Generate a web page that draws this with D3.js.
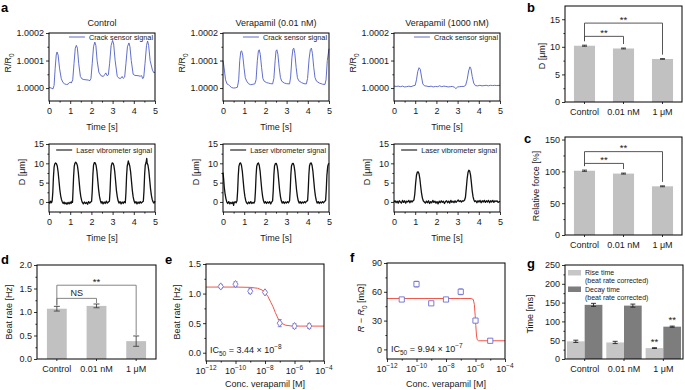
<!DOCTYPE html>
<html>
<head>
  <meta charset="utf-8">
  <title>Crack sensor vs laser vibrometer - verapamil</title>
  <script src="https://cdn.jsdelivr.net/npm/d3@7"></script>
  <style>
    body { margin: 0; background: #fff; }
  </style>
</head>
<body>
<script>
// ---------- data ----------
// panel a: time [s], crack sensor dR/R0 in units of 1e-4
const ctrlCrack = [[0,0.03],[0.1,0.0],[0.19,-0.03],[0.24,0.1],[0.29,0.7],[0.34,1.2],[0.38,1.31],[0.43,1.2],[0.5,0.7],[0.58,0.34],[0.66,0.2],[0.74,0.15],[0.82,0.13],[0.9,0.14],[0.96,0.2],[1.0,0.22],[1.05,0.18],[1.12,0.3],[1.18,0.9],[1.24,1.45],[1.29,1.55],[1.34,1.45],[1.4,0.9],[1.48,0.42],[1.56,0.33],[1.64,0.31],[1.75,0.3],[1.85,0.29],[1.93,0.27],[1.98,0.35],[2.04,0.9],[2.1,1.5],[2.16,1.67],[2.21,1.55],[2.27,1.0],[2.35,0.58],[2.45,0.45],[2.56,0.42],[2.62,0.48],[2.68,0.55],[2.74,0.45],[2.8,0.48],[2.86,0.9],[2.93,1.55],[3.0,1.73],[3.05,1.6],[3.12,1.0],[3.22,0.42],[3.3,0.36],[3.38,0.35],[3.45,0.42],[3.5,0.35],[3.57,0.4],[3.63,0.9],[3.7,1.5],[3.77,1.64],[3.82,1.5],[3.88,1.0],[3.97,0.5],[4.05,0.46],[4.2,0.45],[4.3,0.43],[4.37,0.45],[4.42,0.34],[4.47,0.4],[4.53,0.9],[4.6,1.55],[4.65,1.71],[4.7,1.55],[4.77,1.0],[4.88,0.65],[4.95,0.55],[5.0,0.58]];
const lowCrack = [[0,1.0],[0.05,0.75],[0.12,0.3],[0.19,0.15],[0.26,0.12],[0.32,0.08],[0.4,0.02],[0.5,0.0],[0.6,0.01],[0.68,0.03],[0.74,0.3],[0.79,1.0],[0.84,1.33],[0.88,1.35],[0.93,1.2],[0.99,0.75],[1.05,0.38],[1.11,0.26],[1.2,0.16],[1.31,0.12],[1.42,0.14],[1.5,0.15],[1.56,0.3],[1.62,1.0],[1.67,1.35],[1.71,1.39],[1.76,1.22],[1.82,0.75],[1.88,0.35],[1.94,0.25],[2.05,0.2],[2.15,0.18],[2.25,0.16],[2.34,0.15],[2.4,0.35],[2.46,1.0],[2.5,1.35],[2.54,1.39],[2.59,1.22],[2.65,0.75],[2.71,0.38],[2.77,0.25],[2.9,0.18],[3.0,0.16],[3.14,0.15],[3.19,0.4],[3.25,1.1],[3.3,1.42],[3.34,1.45],[3.39,1.25],[3.45,0.75],[3.51,0.38],[3.57,0.27],[3.7,0.2],[3.82,0.16],[3.93,0.15],[3.99,0.35],[4.06,1.05],[4.12,1.4],[4.17,1.45],[4.22,1.25],[4.28,0.75],[4.34,0.38],[4.41,0.25],[4.55,0.18],[4.7,0.14],[4.81,0.13],[4.86,0.3],[4.92,1.0],[5.0,1.43]];
const highCrack = [[0,0.07],[0.1,0.06],[0.2,0.07],[0.3,0.05],[0.4,0.07],[0.5,0.04],[0.6,0.05],[0.7,0.07],[0.8,0.05],[0.9,0.08],[1.0,0.1],[1.06,0.3],[1.12,0.6],[1.18,0.74],[1.24,0.68],[1.3,0.4],[1.36,0.15],[1.44,0.08],[1.55,0.07],[1.65,0.05],[1.75,0.07],[1.85,0.04],[1.95,0.06],[2.05,0.05],[2.15,0.08],[2.25,0.05],[2.35,0.07],[2.45,0.06],[2.55,0.04],[2.65,0.05],[2.75,0.06],[2.85,0.03],[2.92,-0.02],[3.0,0.04],[3.1,0.05],[3.2,0.06],[3.3,0.06],[3.38,0.1],[3.45,0.3],[3.52,0.62],[3.58,0.77],[3.63,0.7],[3.69,0.42],[3.76,0.18],[3.84,0.09],[3.95,0.08],[4.05,0.1],[4.15,0.08],[4.25,0.09],[4.35,0.1],[4.45,0.08],[4.55,0.1],[4.65,0.09],[4.75,0.1],[4.85,0.09],[5.0,0.1]];

// panel a: time [s], laser vibrometer displacement [um]
const ctrlLaser = [[0,0.1],[0.04,-0.3],[0.08,0.2],[0.12,-0.2],[0.15,0.3],[0.18,2.5],[0.21,6.5],[0.24,9.0],[0.27,9.8],[0.31,10.1],[0.35,9.9],[0.39,9.3],[0.43,7.8],[0.47,5.5],[0.51,3.2],[0.55,1.6],[0.59,0.6],[0.63,0.0],[0.67,-0.4],[0.71,0.0],[0.75,-0.5],[0.8,-0.2],[0.85,-0.6],[0.9,-0.1],[0.95,-0.5],[1.0,0.0],[1.04,-0.4],[1.08,0.2],[1.11,-0.1],[1.13,2.5],[1.16,6.5],[1.19,9.2],[1.22,10.0],[1.26,10.3],[1.3,10.0],[1.34,9.4],[1.38,7.8],[1.42,5.4],[1.46,3.0],[1.5,1.4],[1.54,0.4],[1.58,-0.2],[1.62,-0.5],[1.67,0.0],[1.72,-0.4],[1.77,-0.1],[1.82,-0.6],[1.87,0.1],[1.92,-0.3],[1.97,0.0],[2.01,0.2],[2.04,2.8],[2.07,7.0],[2.1,9.5],[2.14,10.2],[2.18,10.1],[2.22,9.5],[2.26,8.0],[2.3,5.6],[2.34,3.2],[2.38,1.5],[2.42,0.4],[2.46,-0.3],[2.5,0.1],[2.55,-0.5],[2.6,0.0],[2.65,-0.4],[2.7,0.2],[2.75,-0.3],[2.8,0.0],[2.85,0.2],[2.88,2.8],[2.91,7.0],[2.94,9.4],[2.98,10.1],[3.02,10.0],[3.06,9.4],[3.1,7.9],[3.14,5.5],[3.18,3.0],[3.22,1.4],[3.26,0.3],[3.3,-0.3],[3.35,0.1],[3.4,-0.5],[3.45,0.0],[3.5,-0.4],[3.55,0.1],[3.6,-0.2],[3.63,2.5],[3.66,6.8],[3.69,9.3],[3.72,10.0],[3.74,10.6],[3.77,10.0],[3.81,9.3],[3.85,7.8],[3.89,5.4],[3.93,3.0],[3.97,1.3],[4.01,0.3],[4.05,-0.3],[4.1,0.1],[4.15,-0.5],[4.2,0.0],[4.25,-0.4],[4.3,0.1],[4.35,-0.3],[4.4,0.0],[4.45,0.2],[4.48,2.8],[4.51,7.0],[4.54,9.5],[4.58,10.2],[4.61,11.3],[4.63,10.1],[4.67,9.5],[4.71,8.0],[4.75,5.7],[4.79,3.4],[4.83,1.7],[4.87,0.6],[4.91,0.0],[4.95,-0.3],[5.0,0.2]];
const lowLaser = [[0,7.6],[0.03,6.0],[0.06,3.8],[0.1,2.0],[0.14,0.8],[0.18,0.0],[0.22,-0.4],[0.27,0.1],[0.32,-0.5],[0.37,-0.1],[0.42,-0.4],[0.47,0.0],[0.5,-0.9],[0.52,-0.3],[0.57,0.1],[0.62,-0.2],[0.66,0.3],[0.69,2.8],[0.72,6.8],[0.75,9.2],[0.79,10.0],[0.83,10.1],[0.87,9.5],[0.91,8.0],[0.95,5.6],[0.99,3.2],[1.03,1.5],[1.07,0.4],[1.11,-0.2],[1.16,-0.5],[1.21,0.0],[1.26,-0.4],[1.31,0.1],[1.36,-0.4],[1.41,-0.1],[1.46,-0.3],[1.5,0.2],[1.53,2.8],[1.56,6.8],[1.59,9.2],[1.63,9.9],[1.67,10.1],[1.71,9.5],[1.75,8.0],[1.79,5.5],[1.83,3.1],[1.87,1.4],[1.91,0.3],[1.95,-0.3],[2.0,0.1],[2.05,-0.4],[2.1,0.0],[2.15,-0.3],[2.2,0.1],[2.25,-0.5],[2.3,0.0],[2.34,0.3],[2.37,3.0],[2.4,7.0],[2.43,9.3],[2.47,9.9],[2.51,10.0],[2.55,9.4],[2.59,7.9],[2.63,5.5],[2.67,3.1],[2.71,1.4],[2.75,0.3],[2.79,-0.3],[2.84,0.1],[2.89,-0.4],[2.94,0.0],[2.99,-0.3],[3.04,0.1],[3.09,-0.2],[3.14,0.3],[3.17,3.0],[3.2,7.0],[3.23,9.3],[3.27,9.9],[3.31,10.0],[3.35,9.4],[3.39,7.9],[3.43,5.5],[3.47,3.1],[3.51,1.4],[3.55,0.3],[3.59,-0.3],[3.64,0.1],[3.69,-0.4],[3.74,0.0],[3.79,-0.3],[3.84,0.1],[3.89,-0.2],[3.94,0.2],[3.99,0.3],[4.02,3.0],[4.05,7.0],[4.08,9.3],[4.12,10.0],[4.16,10.1],[4.2,9.5],[4.24,8.0],[4.28,5.6],[4.32,3.2],[4.36,1.5],[4.4,0.4],[4.44,-0.3],[4.49,0.1],[4.54,-0.4],[4.59,0.0],[4.64,-0.3],[4.69,0.1],[4.74,-0.2],[4.8,0.2],[4.84,0.4],[4.87,3.0],[4.9,6.8],[4.94,9.2],[4.97,9.8],[5.0,10.0]];
const highLaser = [[0,0.0],[0.05,0.3],[0.1,-0.2],[0.15,0.2],[0.2,-0.3],[0.25,0.3],[0.3,0.0],[0.35,-0.3],[0.4,0.4],[0.45,-0.1],[0.5,0.3],[0.55,-0.3],[0.6,0.2],[0.65,0.0],[0.7,0.4],[0.75,-0.2],[0.8,0.3],[0.85,0.0],[0.9,0.3],[0.94,0.5],[0.98,2.0],[1.02,4.8],[1.06,6.9],[1.1,7.7],[1.14,7.8],[1.18,7.3],[1.22,6.0],[1.26,4.0],[1.3,2.2],[1.34,1.0],[1.38,0.3],[1.43,0.0],[1.48,-0.3],[1.53,0.2],[1.58,-0.2],[1.63,0.3],[1.68,-0.4],[1.73,0.1],[1.78,-0.2],[1.83,0.4],[1.88,-0.1],[1.93,0.2],[1.98,-0.3],[2.03,0.1],[2.08,-0.5],[2.13,0.2],[2.18,-0.2],[2.23,0.3],[2.28,-0.1],[2.33,0.2],[2.38,-0.4],[2.43,0.1],[2.48,0.3],[2.53,-0.2],[2.58,0.2],[2.63,-0.3],[2.68,0.4],[2.73,-0.1],[2.78,0.2],[2.83,-0.2],[2.88,0.3],[2.93,-0.1],[2.98,0.2],[3.03,0.5],[3.08,0.1],[3.13,0.3],[3.18,0.0],[3.23,0.3],[3.28,0.2],[3.33,0.5],[3.37,1.2],[3.41,3.5],[3.45,6.0],[3.49,7.6],[3.53,8.2],[3.57,8.0],[3.61,7.0],[3.65,5.0],[3.69,2.8],[3.73,1.3],[3.77,0.5],[3.81,0.1],[3.86,0.3],[3.91,-0.2],[3.96,0.3],[4.01,0.0],[4.06,0.4],[4.11,-0.2],[4.16,0.3],[4.21,0.0],[4.26,0.4],[4.31,-0.1],[4.36,0.3],[4.41,0.0],[4.46,0.4],[4.51,-0.2],[4.56,0.3],[4.61,0.0],[4.66,0.4],[4.71,-0.1],[4.76,0.3],[4.81,0.1],[4.86,0.3],[4.91,-0.1],[5.0,0.2]];

const aTitles = ['Control', 'Verapamil (0.01 nM)', 'Verapamil (1000 nM)'];
const timeTicks = [0, 1, 2, 3, 4, 5];
const crackTicks = [0, 1, 2];
const crackTickLabels = ['1.0000', '1.0001', '1.0002'];
const dispTicks = [0, 5, 10, 15];

// panels b, c, d, g: bar charts
const groups = ['Control', '0.01 nM', '1 \u03bcM'];
const bDisp = [10.2, 9.7, 7.8], bErr = [0.1, 0.08, 0.06];
const cForce = [101, 96.5, 76.5], cErr = [1.0, 0.8, 0.7];
const dRate = [1.07, 1.13, 0.38], dErr = [0.05, 0.04, 0.11];
const gRise = [47, 44, 29], gRiseErr = [3, 3, 1];
const gDecay = [144, 142, 86], gDecayErr = [4, 4, 1.5];
const gRiseSig = ['', '', '**'], gDecaySig = ['', '', '**'];

// panels e, f: [log10 conc, mean, err] and fitted curve [log10 conc, value]
const ePoints = [[-11,1.12,0.03],[-10,1.16,0.04],[-9,1.04,0.04],[-8,1.02,0.02],[-7,0.50,0.06],[-6,0.45,0.04],[-5,0.45,0.04]];
const eFit = [[-12,1.11],[-10,1.11],[-9,1.105],[-8.5,1.09],[-8.2,1.06],[-8,1.02],[-7.8,0.95],[-7.6,0.85],[-7.46,0.78],[-7.3,0.68],[-7.1,0.57],[-6.9,0.5],[-6.6,0.465],[-6.2,0.452],[-5.5,0.45],[-4,0.45]];
const fPoints = [[-11,52,1],[-10,68,3],[-9,48,1],[-8,52,1],[-7,60,3],[-6,30,1.5],[-5,9,2]];
const fFit = [[-12,53],[-7,53],[-6.3,53],[-6.15,52],[-6.08,47],[-6.02,35],[-5.98,25],[-5.93,14],[-5.88,10],[-5.8,9],[-4,9]];
const decadeTicks = [-12, -11, -10, -9, -8, -7, -6, -5, -4];
const decadeLabels = [-12, -10, -8, -6, -4];

// ---------- drawing ----------
const FONT = "'Liberation Sans', Arial, Helvetica, sans-serif";
const INK = '#1a1a1a';
const BLUE = '#4f5fc6', RED = '#f0574c', PURPLE = '#6d6dd2';

const svg = d3.select('body').append('svg')
  .attr('width', 685).attr('height', 390)
  .attr('font-family', FONT);

function frame(x, y, w, h) {
  svg.append('rect').attr('x', x).attr('y', y).attr('width', w).attr('height', h)
    .attr('fill', 'none').attr('stroke', '#000').attr('stroke-width', 1);
}

function axisG(gen, tx, ty) {
  const g = svg.append('g').attr('transform', `translate(${tx},${ty})`).call(gen)
    .attr('font-family', FONT).attr('font-size', 9);
  g.select('.domain').remove();
  g.selectAll('.tick line').attr('stroke', '#000').attr('stroke-width', 0.8);
  g.selectAll('.tick text').attr('fill', INK);
  return g;
}

function yAxis(scale, x0, vals, labels, minor) {
  axisG(d3.axisLeft(scale).tickValues(vals).tickFormat((d, i) => labels[i]).tickSize(3).tickPadding(2), x0, 0);
  if (minor) axisG(d3.axisLeft(scale).tickValues(minor).tickFormat('').tickSize(1.6), x0, 0);
}

function xAxis(scale, y0, vals, labels, minor, pad) {
  const gen = d3.axisBottom(scale).tickSize(3).tickPadding(pad);
  if (vals) gen.tickValues(vals);
  if (labels) gen.tickFormat((d, i) => labels[i]);
  axisG(gen, 0, y0);
  if (minor) axisG(d3.axisBottom(scale).tickValues(minor).tickFormat('').tickSize(1.6), 0, y0);
}

// text with sub/superscript parts
function rich(t, parts) {
  let shift = 0;
  parts.forEach(p => {
    const [s, k] = typeof p === 'string' ? [p, ''] : p;
    const target = k === 'sub' ? 2.5 : k === 'sup' ? -3.8 : 0;
    const ts = t.append('tspan').text(s).attr('dy', target - shift);
    shift = target;
    if (k === 'sub' || k === 'sup') ts.attr('font-size', 6.5);
    if (k === 'it') ts.attr('font-style', 'italic');
  });
  return t;
}

function yLabel(x, y, parts) {
  const t = svg.append('text').attr('transform', `translate(${x},${y}) rotate(-90)`)
    .attr('text-anchor', 'middle').attr('font-size', 9).attr('fill', INK);
  rich(t, parts);
}

function label(x, y, s, size, anchor) {
  return svg.append('text').attr('x', x).attr('y', y).attr('font-size', size)
    .attr('fill', INK).attr('text-anchor', anchor || 'middle').text(s);
}

function letter(x, y, s) {
  svg.append('text').attr('x', x).attr('y', y).attr('font-size', 13)
    .attr('font-weight', 'bold').attr('fill', '#000').text(s);
}

// legend inside a trace panel, right aligned
function traceLegend(right, y, s, color, width) {
  const t = label(right, y + 2.6, s, 7.3, 'end');
  const start = right - t.node().getComputedTextLength();
  svg.append('line').attr('x1', start - 20).attr('x2', start - 4).attr('y1', y).attr('y2', y)
    .attr('stroke', color).attr('stroke-width', width);
}

// ---------- panel a ----------
const aLeft = [49, 223, 394], aW = 106;
const crackSeries = [ctrlCrack, lowCrack, highCrack];
const laserSeries = [ctrlLaser, lowLaser, highLaser];

aLeft.forEach((x0, i) => {
  const x = d3.scaleLinear().domain([0, 5]).range([x0, x0 + aW]);
  const minorT = d3.range(0.5, 5, 1);

  // crack sensor row
  const yT = d3.scaleLinear().domain([-0.47, 2]).range([101, 33]);
  svg.append('path').datum(crackSeries[i])
    .attr('d', d3.line().x(d => x(d[0])).y(d => yT(d[1])))
    .attr('fill', 'none').attr('stroke', BLUE).attr('stroke-width', 0.9)
    .attr('stroke-linejoin', 'round');
  frame(x0, 33, aW, 68);
  yAxis(yT, x0, crackTicks, crackTickLabels, [0.5, 1.5]);
  xAxis(x, 101, timeTicks, timeTicks, minorT, 4);
  label(x0 + aW / 2, 26, aTitles[i], 9);
  label(x0 + aW / 2, 130, 'Time [s]', 9);
  yLabel(x0 - 38, 63, ['R/R', ['0', 'sub']]);
  traceLegend(x0 + aW - 2, 37, 'Crack sensor signal', BLUE, 0.9);

  // laser vibrometer row
  const yB = d3.scaleLinear().domain([-2.6, 15]).range([212, 144]);
  svg.append('path').datum(laserSeries[i])
    .attr('d', d3.line().x(d => x(d[0])).y(d => yB(d[1])))
    .attr('fill', 'none').attr('stroke', '#111').attr('stroke-width', 1.3)
    .attr('stroke-linejoin', 'round');
  frame(x0, 144, aW, 68);
  yAxis(yB, x0, dispTicks, dispTicks, [2.5, 7.5, 12.5]);
  xAxis(x, 212, timeTicks, timeTicks, minorT, 4);
  label(x0 + aW / 2, 241, 'Time [s]', 9);
  yLabel(x0 - 24, 172, ['D [\u03bcm]']);
  traceLegend(x0 + aW - 3, 150, 'Laser vibrometer signal', '#111', 1.1);
});
letter(1, 12, 'a');

// ---------- bar chart helpers ----------
function bracket(x, y, i, j, level, topI, topJ, text, color) {
  const xi = x(groups[i]) + x.bandwidth() / 2, xj = x(groups[j]) + x.bandwidth() / 2;
  svg.append('path')
    .attr('d', `M${xi},${topI}V${y(level)}H${xj}V${topJ}`)
    .attr('fill', 'none').attr('stroke', color).attr('stroke-width', 0.9);
  return label((xi + xj) / 2, y(level) - (text === 'NS' ? 2 : 0.5), text, text === 'NS' ? 9 : 9.5);
}

function errBars(y, vals, errs, cx, cap, color) {
  vals.forEach((v, i) => {
    const c = cx(i);
    svg.append('path')
      .attr('d', `M${c},${y(v - errs[i])}V${y(v + errs[i])}M${c - cap},${y(v + errs[i])}H${c + cap}M${c - cap},${y(v - errs[i])}H${c + cap}`)
      .attr('fill', 'none').attr('stroke', color).attr('stroke-width', 0.9);
  });
}

function barPanel(o) {
  const x = d3.scaleBand().domain(groups).range([o.x0, o.x1]).paddingInner(o.pad).paddingOuter(o.pad / 2);
  const y = d3.scaleLinear().domain(o.yDomain).range([o.y1, o.y0]);
  svg.append('g').selectAll('rect').data(o.values).join('rect')
    .attr('x', (d, i) => x(groups[i]))
    .attr('y', d => y(d))
    .attr('width', x.bandwidth())
    .attr('height', d => y(0) - y(d))
    .attr('fill', '#c1c1c1');
  const cx = i => x(groups[i]) + x.bandwidth() / 2;
  errBars(y, o.values, o.errs, cx, o.cap, o.errColor);
  frame(o.x0, o.y0, o.x1 - o.x0, o.y1 - o.y0);
  yAxis(y, o.x0, o.ticks, o.tickLabels, o.minor);
  axisG(d3.axisBottom(x).tickSize(2).tickPadding(o.labelPad), 0, o.y1);
  return { x, y, cx };
}

// ---------- panel b ----------
{
  const p = barPanel({ x0: 565, x1: 682, y0: 6, y1: 102, yDomain: [0, 17.4], values: bDisp, errs: bErr,
    pad: 0.46, cap: 2.5, errColor: '#333', ticks: [0, 5, 10, 15], tickLabels: [0, 5, 10, 15],
    minor: [2.5, 7.5, 12.5], labelPad: 5 });
  const top = i => p.y(bDisp[i] + bErr[i]) - 4;
  bracket(p.x, p.y, 0, 1, 11.9, top(0), top(1), '**', '#444');
  bracket(p.x, p.y, 0, 2, 14.3, top(0), top(2), '**', '#444');
  yLabel(545, 56, ['D [\u03bcm]']);
  letter(527, 12, 'b');
}

// ---------- panel c ----------
{
  const p = barPanel({ x0: 565, x1: 682, y0: 137, y1: 235, yDomain: [0, 154], values: cForce, errs: cErr,
    pad: 0.46, cap: 2.5, errColor: '#333', ticks: [0, 50, 100, 150], tickLabels: [0, 50, 100, 150],
    minor: [25, 75, 125], labelPad: 5 });
  const top = i => p.y(cForce[i] + cErr[i]) - 4;
  bracket(p.x, p.y, 0, 1, 112.5, top(0), top(1), '**', '#444');
  bracket(p.x, p.y, 0, 2, 131, top(0), top(2), '**', '#444');
  yLabel(539, 186, ['Relative force [%]']);
  letter(524, 143, 'c');
}

// ---------- panel d ----------
{
  const p = barPanel({ x0: 37, x1: 156, y0: 265, y1: 359, yDomain: [0, 2.0], values: dRate, errs: dErr,
    pad: 0.5, cap: 3, errColor: '#444', ticks: [0, 0.5, 1.0, 1.5, 2.0], tickLabels: ['0.0', '0.5', '1.0', '1.5', '2.0'],
    minor: [0.25, 0.75, 1.25, 1.75], labelPad: 5 });
  const top = i => p.y(dRate[i] + dErr[i]) - 1;
  bracket(p.x, p.y, 0, 1, 1.29, top(0), top(1), 'NS', '#777');
  bracket(p.x, p.y, 0, 2, 1.57, top(0), top(2), '**', '#777');
  yLabel(12, 312, ['Beat rate [Hz]']);
  letter(1, 264, 'd');
}

// ---------- panels e, f ----------
function dosePanel(o) {
  const x = d3.scaleLog().domain([1e-12, 1e-4]).range([o.x0, o.x1]);
  const y = d3.scaleLinear().domain(o.yDomain).range([o.y1, o.y0]);
  svg.append('path').datum(o.fit)
    .attr('d', d3.line().x(d => x(10 ** d[0])).y(d => y(d[1])))
    .attr('fill', 'none').attr('stroke', RED).attr('stroke-width', 1);
  o.points.forEach(d => {
    const cx = x(10 ** d[0]);
    svg.append('path')
      .attr('d', `M${cx},${y(d[1] - d[2])}V${y(d[1] + d[2])}M${cx - 2},${y(d[1] + d[2])}H${cx + 2}M${cx - 2},${y(d[1] - d[2])}H${cx + 2}`)
      .attr('fill', 'none').attr('stroke', PURPLE).attr('stroke-width', 0.8);
    const cy = y(d[1]);
    const shape = o.marker === 'diamond'
      ? `M${cx},${cy - 3.6}L${cx + 2.6},${cy}L${cx},${cy + 3.6}L${cx - 2.6},${cy}Z`
      : `M${cx - 2.6},${cy - 2.6}h5.2v5.2h-5.2Z`;
    svg.append('path').attr('d', shape).attr('fill', '#fff').attr('stroke', PURPLE).attr('stroke-width', 0.9);
  });
  frame(o.x0, o.y0, o.x1 - o.x0, o.y1 - o.y0);
  yAxis(y, o.x0, o.ticks, o.tickLabels, o.minor);
  const major = decadeLabels.map(e => 10 ** e);
  const minor = decadeTicks.filter(e => !decadeLabels.includes(e)).map(e => 10 ** e);
  axisG(d3.axisBottom(x).tickValues(major).tickFormat('').tickSize(3), 0, o.y1);
  axisG(d3.axisBottom(x).tickValues(minor).tickFormat('').tickSize(1.6), 0, o.y1);
  decadeLabels.forEach(e => {
    rich(label(x(10 ** e), o.y1 + 13, '', 9), ['10', ['\u2212' + Math.abs(e), 'sup']]);
  });
  label((o.x0 + o.x1) / 2, 387, 'Conc. verapamil [M]', 9);
  rich(label(o.x0 + 4, o.icY, '', 9, 'start'), ['IC', ['50', 'sub'], ' = ' + o.ic + ' \u00d7 10', [o.icExp, 'sup']]);
  return { x, y };
}

dosePanel({ x0: 206, x1: 324, y0: 264, y1: 361, yDomain: [-0.14, 1.5], points: ePoints, fit: eFit,
  marker: 'diamond', ticks: [0, 0.5, 1.0, 1.5], tickLabels: ['0.0', '0.5', '1.0', '1.5'], minor: [0.25, 0.75, 1.25],
  icY: 353, ic: '3.44', icExp: '\u22128' });
yLabel(180, 312, ['Beat rate [Hz]']);
letter(165, 264, 'e');

dosePanel({ x0: 387, x1: 505, y0: 263, y1: 359, yDomain: [-10, 90], points: fPoints, fit: fFit,
  marker: 'square', ticks: [0, 30, 60, 90], tickLabels: [0, 30, 60, 90], minor: [15, 45, 75],
  icY: 352, ic: '9.94', icExp: '\u22127' });
yLabel(364, 308, [['R', 'it'], ' \u2212 ', ['R', 'it'], ['0', 'sub'], ' [m\u03a9]']);
letter(350, 262, 'f');

// ---------- panel g ----------
{
  const x0 = 565, x1 = 683, y0 = 265, y1 = 359;
  const x = d3.scaleBand().domain(groups).range([x0, x1]).paddingInner(0.1).paddingOuter(0.05);
  const sub = d3.scaleBand().domain(['rise', 'decay']).range([0, x.bandwidth()]);
  const y = d3.scaleLinear().domain([0, 250]).range([y1, y0]);
  const series = [
    { key: 'rise', vals: gRise, errs: gRiseErr, sig: gRiseSig, color: '#c6c6c6' },
    { key: 'decay', vals: gDecay, errs: gDecayErr, sig: gDecaySig, color: '#7d7d7d' }
  ];
  series.forEach(s => {
    svg.append('g').selectAll('rect').data(s.vals).join('rect')
      .attr('x', (d, i) => x(groups[i]) + sub(s.key))
      .attr('y', d => y(d))
      .attr('width', sub.bandwidth())
      .attr('height', d => y(0) - y(d))
      .attr('fill', s.color);
    const cx = i => x(groups[i]) + sub(s.key) + sub.bandwidth() / 2;
    errBars(y, s.vals, s.errs, cx, 2.5, '#222');
    s.vals.forEach((v, i) => {
      if (s.sig[i]) label(cx(i), y(v + s.errs[i]) - 3, s.sig[i], 9.5);
    });
  });
  frame(x0, y0, x1 - x0, y1 - y0);
  yAxis(y, x0, [0, 50, 100, 150, 200, 250], [0, 50, 100, 150, 200, 250], [25, 75, 125, 175, 225]);
  axisG(d3.axisBottom(x).tickSize(2).tickPadding(5), 0, y1);

  // legend, sits above the tallest bars
  const legend = [
    { color: '#c6c6c6', lines: ['Rise time', '(beat rate corrected)'], y: 270 },
    { color: '#7d7d7d', lines: ['Decay time', '(beat rate corrected)'], y: 286.5 }
  ];
  legend.forEach(l => {
    svg.append('rect').attr('x', x0 + 3).attr('y', l.y).attr('width', 13).attr('height', 5.5).attr('fill', l.color);
    label(x0 + 20, l.y + 5.2, l.lines[0], 7, 'start');
    label(x0 + 20, l.y + 13.2, l.lines[1], 7, 'start');
  });
  yLabel(533, 314, ['Time [ms]']);
  letter(527, 268, 'g');
}
</script>
</body>
</html>
